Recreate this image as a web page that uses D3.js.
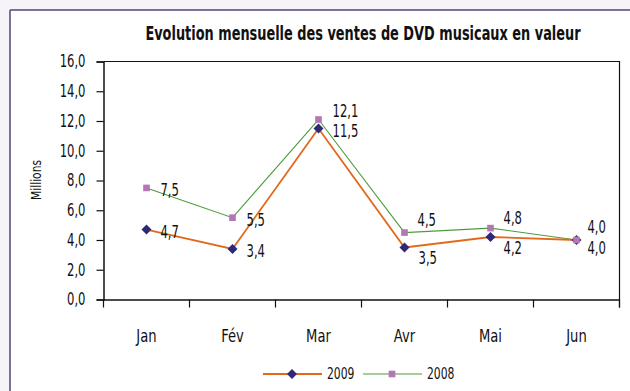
<!DOCTYPE html>
<html>
<head>
<meta charset="utf-8">
<script src="https://cdn.jsdelivr.net/npm/d3@7"></script>
<style>
  html, body { margin: 0; padding: 0; background: #f6f4f8; }
  svg { display: block; }
  text { font-family: "DejaVu Sans", sans-serif; font-stretch: condensed; fill: #111; }
</style>
</head>
<body>
<svg id="chart" width="630" height="391"></svg>
<script>
// Monthly value of music DVD sales (millions)
const months = ["Jan", "Fév", "Mar", "Avr", "Mai", "Jun"];
const sales2009 = [4.7, 3.4, 11.5, 3.5, 4.2, 4.0];
const sales2008 = [7.5, 5.5, 12.1, 4.5, 4.8, 4.0];
const yTicks = [0, 2, 4, 6, 8, 10, 12, 14, 16];
const seriesNames = ["2009", "2008"];

// Label placement relative to each point: [dx, dy]
const labelPos2009 = [[14, 2], [14, 2], [14, 2], [14, 10], [13, 11], [11, 8]];
const labelPos2008 = [[14, 2], [14, 2], [14, -9], [13, -13], [13, -10], [11, -13]];

const svg = d3.select("#chart");
const W = 630, H = 391;

// Narrow the glyphs horizontally while keeping the anchor position
function squeeze(sel, sx) {
  sel.each(function () {
    const t = d3.select(this);
    const x0 = +t.attr("x") || 0;
    t.attr("x", x0 / sx).attr("transform", ((t.attr("transform") || "") + ` scale(${sx},1)`).trim());
  });
}

// Frame
svg.append("rect").attr("x", 10).attr("y", 10).attr("width", W - 10).attr("height", H - 10)
  .attr("fill", "#fff");
svg.append("line").attr("x1", 10).attr("x2", 10).attr("y1", 10).attr("y2", H)
  .attr("stroke", "#5a3f78").attr("stroke-width", 1.5);
svg.append("line").attr("x1", 10).attr("x2", W).attr("y1", 10).attr("y2", 10)
  .attr("stroke", "#5a3f78").attr("stroke-width", 1.5);

const plot = { left: 103.5, right: 619.5, top: 61.5, bottom: 299.5 };

const x = d3.scaleBand().domain(months).range([plot.left, plot.right]);
const y = d3.scaleLinear().domain([0, 16]).range([plot.bottom, plot.top]);
const fmt = v => d3.format(".1f")(v).replace(".", ",");

// Title
const title = svg.append("text").attr("x", 363).attr("y", 40).attr("text-anchor", "middle")
  .style("font-weight", "bold").style("font-size", "19px")
  .text("Evolution mensuelle des ventes de DVD musicaux en valeur");
squeeze(title, 0.755);

// Plot border (top and right)
svg.append("path")
  .attr("d", `M${plot.left},${plot.top}H${plot.right}V${plot.bottom + 8}`)
  .attr("fill", "none").attr("stroke", "#111").attr("stroke-width", 1.2);

// Y axis
const yAxis = svg.append("g").attr("transform", `translate(${plot.left},0)`)
  .call(d3.axisLeft(y).tickValues(yTicks).tickSize(7).tickPadding(11).tickFormat(fmt));
yAxis.attr("font-family", null).attr("font-size", null);
yAxis.select(".domain").attr("stroke", "#111").attr("stroke-width", 1.5);
yAxis.selectAll(".tick line").attr("stroke", "#111").attr("stroke-width", 1.2);
yAxis.selectAll(".tick text").style("font-size", "17px").attr("fill", "#111");
squeeze(yAxis.selectAll(".tick text"), 0.76);

// X axis with ticks between categories
const xAxis = svg.append("g").attr("transform", `translate(0,${plot.bottom})`)
  .call(d3.axisBottom(x).tickSize(0).tickPadding(30));
xAxis.attr("font-family", null).attr("font-size", null);
xAxis.select(".domain").attr("stroke", "#111").attr("stroke-width", 1.5);
xAxis.selectAll(".tick text").style("font-size", "17px").attr("fill", "#111");
squeeze(xAxis.selectAll(".tick text"), 0.86);
const bounds = months.map(m => x(m)).concat([x(months[months.length - 1]) + x.bandwidth()]);
xAxis.selectAll(".sep").data(bounds).enter().append("line")
  .attr("x1", d => d).attr("x2", d => d).attr("y1", 0).attr("y2", 8)
  .attr("stroke", "#111").attr("stroke-width", 1.2);

// Y axis title
const yTitle = svg.append("text").attr("transform", "translate(41,180) rotate(-90)")
  .attr("text-anchor", "middle").style("font-size", "14px").text("Millions");
squeeze(yTitle, 0.85);

const cx = m => x(m) + x.bandwidth() / 2;
const line = d3.line().x((d, i) => cx(months[i])).y(d => y(d));

const series = [
  { name: seriesNames[0], values: sales2009, color: "#e2691c", width: 1.8, marker: "diamond", mfill: "#2f2878", pos: labelPos2009 },
  { name: seriesNames[1], values: sales2008, color: "#4f9a3c", width: 1.1, marker: "square", mfill: "#b277b4", pos: labelPos2008 }
];
const diamond = d3.symbol().type(d3.symbolDiamond2).size(64);
const square = d3.symbol().type(d3.symbolSquare).size(44);
const sym = s => s.marker === "diamond" ? diamond() : square();

// Draw 2008 first so 2009 sits on top
[series[1], series[0]].forEach(s => {
  svg.append("path").datum(s.values).attr("d", line)
    .attr("fill", "none").attr("stroke", s.color).attr("stroke-width", s.width);
});
[series[0], series[1]].forEach(s => {
  svg.selectAll(null).data(s.values).enter().append("path")
    .attr("transform", (d, i) => `translate(${cx(months[i])},${y(d)})`)
    .attr("d", sym(s)).attr("fill", s.mfill);
});
series.forEach(s => {
  const labels = svg.selectAll(null).data(s.values).enter().append("text")
    .attr("x", (d, i) => cx(months[i]) + s.pos[i][0])
    .attr("y", (d, i) => y(d) + s.pos[i][1])
    .attr("dy", "0.36em").style("font-size", "17px")
    .text(d => fmt(d));
  squeeze(labels, 0.76);
});

// Legend
const legend = svg.append("g").attr("transform", "translate(0,374)");
series.forEach((s, i) => {
  const x0 = 263 + i * 100;
  legend.append("line").attr("x1", x0).attr("x2", x0 + 59).attr("y1", 0).attr("y2", 0)
    .attr("stroke", s.color).attr("stroke-width", s.width);
  legend.append("path").attr("transform", `translate(${x0 + 29},0)`).attr("d", sym(s)).attr("fill", s.mfill);
  const t = legend.append("text").attr("x", x0 + 64).attr("y", 0).attr("dy", "0.36em")
    .style("font-size", "15px").text(s.name);
  squeeze(t, 0.8);
});
</script>
</body>
</html>
